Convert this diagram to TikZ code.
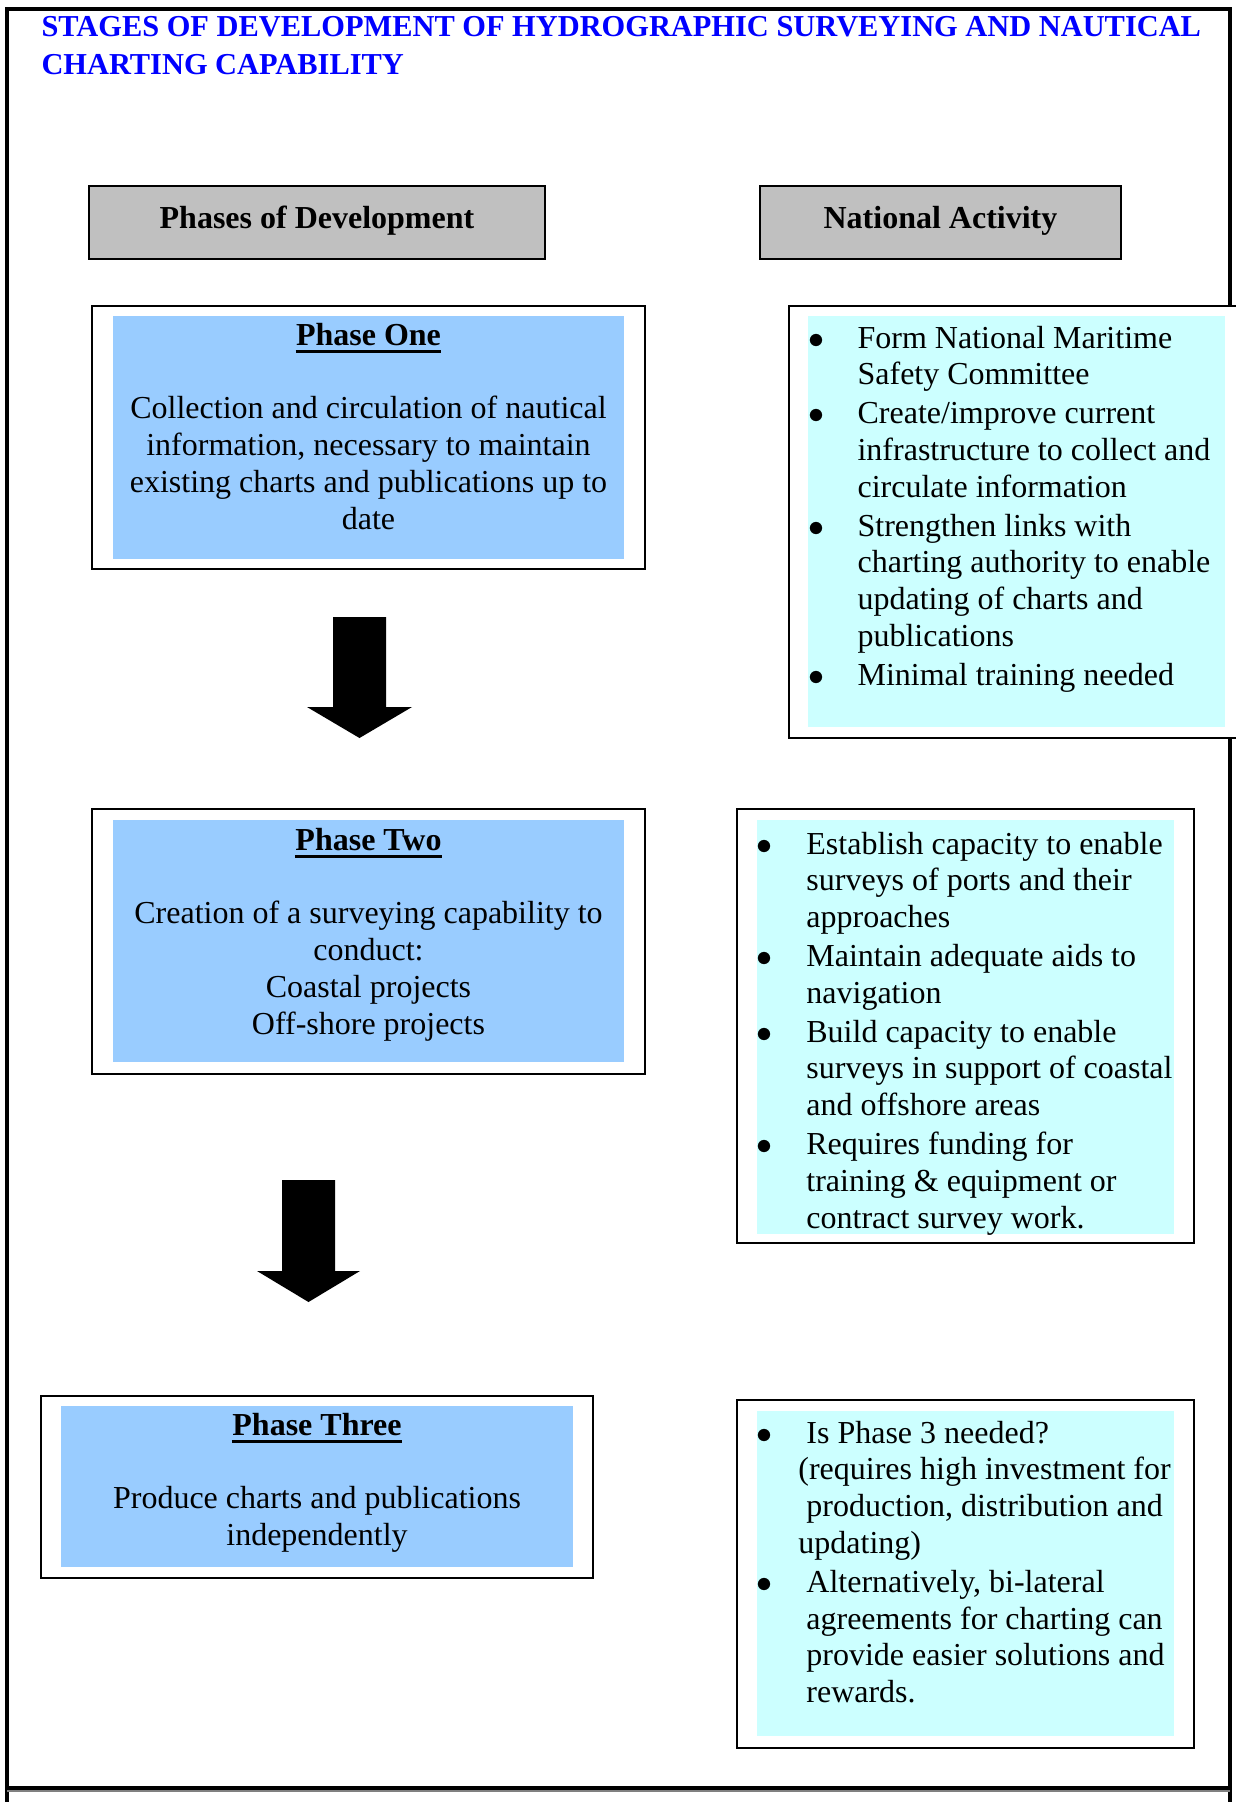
\documentclass[tikz,border=0pt]{standalone}
\usepackage{fontspec}
\setmainfont{Liberation Serif}
\usepackage{tikz}
\usetikzlibrary{positioning, fit, calc}
\definecolor{phaseblue}{RGB}{153,204,255}
\definecolor{activitycyan}{RGB}{204,255,255}
\definecolor{headgray}{RGB}{192,192,192}
\definecolor{titleblue}{RGB}{0,0,255}

\begin{document}
\begin{tikzpicture}[
    x=0.375pt, y=-0.375pt,
    every node/.style={inner sep=0pt},
    headbox/.style={rectangle, draw, line width=0.8pt, fill=headgray},
    headtext/.style={anchor=base, font=\fontsize{12}{13.8}\selectfont\bfseries},
    outerbox/.style={rectangle, draw, line width=0.8pt, fill=white},
    phasefill/.style={rectangle, fill=phaseblue},
    activityfill/.style={rectangle, fill=activitycyan},
    phasetitle/.style={anchor=base, font=\fontsize{12}{13.8}\selectfont\bfseries},
    phasetext/.style={anchor=base, align=center, font=\fontsize{12}{13.8}\selectfont},
    activitytext/.style={anchor=base west, font=\fontsize{12}{13.8}\selectfont},
    titleline/.style={line width=1pt},
    blockarrow/.style={fill=black}
]
\useasboundingbox (0,0) rectangle (1236,1802);

% page frame
\draw[line width=1.2pt] (7,1802) -- (7,9) -- (1230,9) -- (1230,1802);
\draw[line width=1.3pt] (7,1788) -- (1230,1788);
\draw[gray, line width=0.4pt] (7,1791) -- (1230,1791);

\node[anchor=base west, align=left, text=titleblue, font=\fontsize{11.4}{13.9}\selectfont\bfseries] (title) at (41,74)
    {STAGES OF DEVELOPMENT OF HYDROGRAPHIC SURVEYING AND NAUTICAL\\CHARTING CAPABILITY};

% column heads
\node[headbox, fit={(89,186) (545,259)}] (phasehead) {};
\node[headtext] (phaseheadtext) at (317,228) {Phases of Development};
\node[headbox, fit={(760,186) (1121,259)}] (activityhead) {};
\node[headtext] (activityheadtext) at (940.5,228) {National Activity};

% phase boxes
\node[outerbox, fit={(92,306) (645,569)}] (p1frame) {};
\node[phasefill, fit={(113,316) (624,559)}] (p1fill) {};
\node[phasetitle] (p1title) at (368.5,345) {Phase One};
\node[phasetext] (p1text) at (368.5,529) {Collection and circulation of nautical\\information, necessary to maintain\\existing charts and publications up to\\date};

\node[outerbox, fit={(92,809) (645,1074)}] (p2frame) {};
\node[phasefill, fit={(113,820) (624,1062)}] (p2fill) {};
\node[phasetitle] (p2title) at (368.5,850) {Phase Two};
\node[phasetext] (p2text) at (368.5,1034) {Creation of a surveying capability to\\conduct:\\Coastal projects\\Off-shore projects};

\node[outerbox, fit={(41,1396) (593,1578)}] (p3frame) {};
\node[phasefill, fit={(61,1406) (573,1567)}] (p3fill) {};
\node[phasetitle] (p3title) at (317,1435) {Phase Three};
\node[phasetext] (p3text) at (317,1545) {Produce charts and publications\\independently};

\foreach \t in {p1title, p2title, p3title}
    \draw[titleline] ([yshift=-2.4pt]\t.base west) -- ([yshift=-2.4pt]\t.base east);

% activity boxes
\node[outerbox, fit={(789,306) (1250,738)}] (na1frame) {};
\node[activityfill, fit={(808,316) (1225,727)}] (na1fill) {};
\node[activitytext] (na1text) at (808,348) {\begin{tabular}[t]{@{}p{18.4pt}@{}l@{}}
$\bullet$ & Form National Maritime\\
 & Safety Committee\\[0.75pt]
$\bullet$ & Create/improve current\\
 & infrastructure to collect and\\
 & circulate information\\[0.75pt]
$\bullet$ & Strengthen links with\\
 & charting authority to enable\\
 & updating of charts and\\
 & publications\\[0.75pt]
$\bullet$ & Minimal training needed
\end{tabular}};

\node[outerbox, fit={(737,809) (1194,1243)}] (na2frame) {};
\node[activityfill, fit={(757,820) (1174,1234)}] (na2fill) {};
\node[activitytext] (na2text) at (756,854) {\begin{tabular}[t]{@{}p{18.7pt}@{}l@{}}
$\bullet$ & Establish capacity to enable\\
 & surveys of ports and their\\
 & approaches\\[0.75pt]
$\bullet$ & Maintain adequate aids to\\
 & navigation\\[0.75pt]
$\bullet$ & Build capacity to enable\\
 & surveys in support of coastal\\
 & and offshore areas\\[0.75pt]
$\bullet$ & Requires funding for\\
 & training \& equipment or\\
 & contract survey work.
\end{tabular}};

\node[outerbox, fit={(737,1400) (1194,1748)}] (na3frame) {};
\node[activityfill, fit={(757,1411) (1174,1736)}] (na3fill) {};
\node[activitytext] (na3text) at (756,1443) {\begin{tabular}[t]{@{}p{18.7pt}@{}l@{}}
$\bullet$ & Is Phase 3 needed?\\
 & \hspace{-3pt}(requires high investment for\\
 & production, distribution and\\
 & \hspace{-3pt}updating)\\[0.75pt]
$\bullet$ & Alternatively, bi-lateral\\
 & agreements for charting can\\
 & provide easier solutions and\\
 & rewards.
\end{tabular}};

% block arrows between phases
\coordinate (arrow1top) at (359.5,617);
\fill[blockarrow] (arrow1top) ++(-26.5,0) -- ++(53,0) -- ++(0,90) -- ++(26,0) -- ++(-52.5,31) -- ++(-52.5,-31) -- ++(26,0) -- cycle;
\coordinate (arrow2top) at (308.5,1180);
\fill[blockarrow] (arrow2top) ++(-26.5,0) -- ++(53,0) -- ++(0,91) -- ++(25,0) -- ++(-51.5,31) -- ++(-51.5,-31) -- ++(25,0) -- cycle;

\end{tikzpicture}
\end{document}
